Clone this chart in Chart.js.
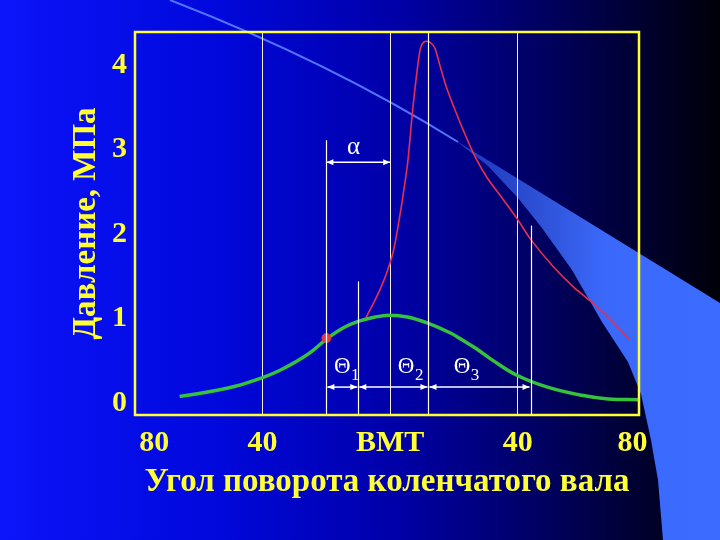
<!DOCTYPE html>
<html>
<head>
<meta charset="utf-8">
<script src="https://cdn.jsdelivr.net/npm/chart.js@4/dist/chart.umd.min.js"></script>
<style>
  html, body { margin: 0; padding: 0; background: #000080; }
  #wrap { width: 720px; height: 540px; }
</style>
</head>
<body>
<div id="wrap"><canvas id="grafico" width="720" height="540"></canvas></div>
<script>
// Ticks de los ejes
const xTickVals = [-74, -40, 0, 40, 76];
const xTickLabels = ['80', '40', 'BMT', '40', '80'];
const yTickVals = [0, 1, 2, 3, 4];

// Curva de compresión (verde)
const angVerde = [-66, -57.6, -48.6, -40.2, -35, -30, -25, -19.9, -14.8, -9.8, -4.7, -0.2, 5.4, 11.6, 18.9, 22.5, 26.8, 32.4, 39.7, 49.3, 60.5, 68.3, 78];
const presVerde = [0.08, 0.13, 0.2, 0.3, 0.38, 0.48, 0.6, 0.76, 0.89, 0.97, 1.02, 1.04, 1.02, 0.95, 0.83, 0.75, 0.65, 0.5, 0.33, 0.19, 0.09, 0.05, 0.04];

// Curva de combustión (roja)
const angRoja = [-7.6, -5, -3, -1, 1, 2.5, 4, 5.5, 7, 8.5, 9.5, 10.5, 11.6, 12.8, 14, 15.4, 17.6, 20, 23, 26.8, 30.5, 35.6, 40, 44, 51, 57.6, 64, 69.3, 75];
const presRoja = [1.01, 1.2, 1.36, 1.55, 1.8, 2.1, 2.45, 2.85, 3.45, 3.95, 4.2, 4.27, 4.28, 4.26, 4.2, 4.02, 3.74, 3.5, 3.22, 2.9, 2.66, 2.4, 2.17, 1.94, 1.62, 1.37, 1.17, 0.98, 0.75];

// Punto de inicio de inyección
const angPunto = [-20];
const presPunto = [0.77];

// Líneas y flechas de anotación
const lineasAng = [-20, -10, 12, 44];
const lineasTope = [3.11, 1.44, 4.39, 2.1];
const alfaAng = [-20, 0];
const alfaPres = 2.85;
const thetaAng = [-20, -10, 12, 44];
const thetaPres = 0.19;
const thetaEtiq = ['1', '2', '3'];
const thetaEtiqAng = [-15, 5, 22.5];
const thetaEtiqPres = 0.43;
const alfaEtiq = { ang: -11.5, pres: 3.03 };

const AMARILLO = '#ffff33';
const FUENTE = "'Liberation Serif', 'Times New Roman', serif";

// Fondo de la diapositiva con degradado y la curva decorativa
const fondo = {
  id: 'fondo',
  beforeDraw(chart) {
    const ctx = chart.ctx;
    const w = chart.width, h = chart.height;
    ctx.save();
    const g = ctx.createLinearGradient(0, 0, w, 0);
    g.addColorStop(0, '#0c14fa');
    g.addColorStop(0.3, '#0008dc');
    g.addColorStop(0.55, '#0000a8');
    g.addColorStop(0.78, '#000058');
    g.addColorStop(1, '#000008');
    ctx.fillStyle = g;
    ctx.fillRect(0, 0, w, h);

    // banda azul clara
    const gb = ctx.createLinearGradient(455, 0, 700, 0);
    gb.addColorStop(0, 'rgba(58,100,240,0.5)');
    gb.addColorStop(0.6, '#3a68fa');
    gb.addColorStop(1, '#3b6cff');
    ctx.fillStyle = gb;
    ctx.beginPath();
    ctx.moveTo(455, 140);
    ctx.lineTo(720, 303);
    ctx.lineTo(720, 540);
    ctx.lineTo(663, 540);
    const borde = [[658, 480], [651, 440], [641, 394], [628, 362], [602, 322], [572, 270], [542, 228], [518, 198], [488, 166]];
    borde.forEach(p => ctx.lineTo(p[0], p[1]));
    ctx.closePath();
    ctx.fill();

    // línea fina
    ctx.strokeStyle = '#5074ff';
    ctx.lineWidth = 2;
    ctx.beginPath();
    ctx.moveTo(170, 0);
    ctx.quadraticCurveTo(330, 62, 458, 142);
    ctx.stroke();
    ctx.restore();
  }
};

// Marco amarillo, líneas blancas, flechas y letras
const anotaciones = {
  id: 'anotaciones',
  afterDatasetsDraw(chart) {
    const ctx = chart.ctx;
    const x = chart.scales.x, y = chart.scales.y;
    const a = chart.chartArea;
    ctx.save();

    ctx.strokeStyle = '#ffffff';
    ctx.lineWidth = 1.2;
    lineasAng.forEach((v, i) => {
      const px = Math.round(x.getPixelForValue(v)) + 0.5;
      ctx.beginPath();
      ctx.moveTo(px, y.getPixelForValue(lineasTope[i]));
      ctx.lineTo(px, a.bottom);
      ctx.stroke();
    });

    function flecha(x1, x2, py) {
      ctx.beginPath();
      ctx.moveTo(x1, py);
      ctx.lineTo(x2, py);
      ctx.stroke();
      ctx.beginPath();
      ctx.moveTo(x1, py); ctx.lineTo(x1 + 7, py - 3); ctx.lineTo(x1 + 7, py + 3); ctx.closePath();
      ctx.moveTo(x2, py); ctx.lineTo(x2 - 7, py - 3); ctx.lineTo(x2 - 7, py + 3); ctx.closePath();
      ctx.fill();
    }
    ctx.fillStyle = '#ffffff';
    ctx.lineWidth = 1.5;
    flecha(x.getPixelForValue(alfaAng[0]), x.getPixelForValue(alfaAng[1]), y.getPixelForValue(alfaPres));
    for (let i = 0; i < thetaAng.length - 1; i++) {
      flecha(x.getPixelForValue(thetaAng[i]) + 1, x.getPixelForValue(thetaAng[i + 1]) - 1, y.getPixelForValue(thetaPres));
    }

    ctx.textAlign = 'center';
    ctx.textBaseline = 'middle';
    ctx.font = '25px ' + FUENTE;
    ctx.fillText('α', x.getPixelForValue(alfaEtiq.ang), y.getPixelForValue(alfaEtiq.pres));
    thetaEtiq.forEach((t, i) => {
      const px = x.getPixelForValue(thetaEtiqAng[i]);
      const py = y.getPixelForValue(thetaEtiqPres);
      ctx.font = '23px ' + FUENTE;
      ctx.fillText('Θ', px, py);
      ctx.font = '17px ' + FUENTE;
      ctx.fillText(t, px + 13, py + 9);
    });

    // marco
    ctx.strokeStyle = AMARILLO;
    ctx.lineWidth = 2.5;
    ctx.strokeRect(a.left, a.top, a.right - a.left, a.bottom - a.top);
    ctx.restore();

    // sombra para los textos de los ejes (se dibujan después)
    ctx.shadowColor = 'rgba(0,0,30,0.85)';
    ctx.shadowOffsetX = 2;
    ctx.shadowOffsetY = 2;
    ctx.shadowBlur = 1;
  },
  afterDraw(chart) {
    const ctx = chart.ctx;
    ctx.shadowColor = 'rgba(0,0,0,0)';
    ctx.shadowOffsetX = 0;
    ctx.shadowOffsetY = 0;
    ctx.shadowBlur = 0;
  }
};

const ctx = document.getElementById('grafico').getContext('2d');
new Chart(ctx, {
  type: 'scatter',
  data: {
    datasets: [
      {
        label: 'compresión',
        data: angVerde.map((v, i) => ({ x: v, y: presVerde[i] })),
        showLine: true,
        borderColor: '#36c23c',
        borderWidth: 3.5,
        pointRadius: 0,
        tension: 0.4
      },
      {
        label: 'combustión',
        data: angRoja.map((v, i) => ({ x: v, y: presRoja[i] })),
        showLine: true,
        borderColor: '#e8304a',
        borderWidth: 1.6,
        pointRadius: 0,
        tension: 0.3
      },
      {
        label: 'inyección',
        data: angPunto.map((v, i) => ({ x: v, y: presPunto[i] })),
        pointRadius: 4.5,
        backgroundColor: '#e83838',
        borderColor: '#e83838',
        order: -1
      }
    ]
  },
  options: {
    responsive: false,
    animation: false,
    devicePixelRatio: 1,
    layout: { padding: { left: 58, top: 32, right: 81, bottom: 0 } },
    plugins: { legend: { display: false }, tooltip: { enabled: false } },
    scales: {
      x: {
        type: 'linear',
        min: -80,
        max: 78,
        afterBuildTicks: s => { s.ticks = xTickVals.map(v => ({ value: v })); },
        afterFit: s => { s.height = 125; },
        grid: {
          drawTicks: false,
          color: c => (c.index === 0 || c.index === xTickVals.length - 1) ? 'rgba(0,0,0,0)' : 'rgba(255,255,210,0.95)',
          lineWidth: 1
        },
        border: { display: false },
        ticks: {
          autoSkip: false,
          maxRotation: 0,
          padding: 10,
          color: AMARILLO,
          font: { family: FUENTE, size: 30, weight: 'bold' },
          callback: (v, i) => xTickLabels[i]
        },
        title: {
          display: true,
          text: 'Угол поворота коленчатого вала',
          color: AMARILLO,
          font: { family: FUENTE, size: 33, weight: 'bold' },
          padding: { top: 0, bottom: 38 }
        }
      },
      y: {
        type: 'linear',
        min: -0.14,
        max: 4.39,
        afterBuildTicks: s => { s.ticks = yTickVals.map(v => ({ value: v })); },
        afterFit: s => { s.width = 77; },
        grid: { display: false, drawTicks: false },
        border: { display: false },
        ticks: {
          padding: 8,
          color: AMARILLO,
          font: { family: FUENTE, size: 30, weight: 'bold' }
        },
        title: {
          display: true,
          text: 'Давление, МПа',
          color: AMARILLO,
          font: { family: FUENTE, size: 33, weight: 'bold' },
          padding: { top: 9, bottom: 0 }
        }
      }
    }
  },
  plugins: [fondo, anotaciones]
});
</script>
</body>
</html>
